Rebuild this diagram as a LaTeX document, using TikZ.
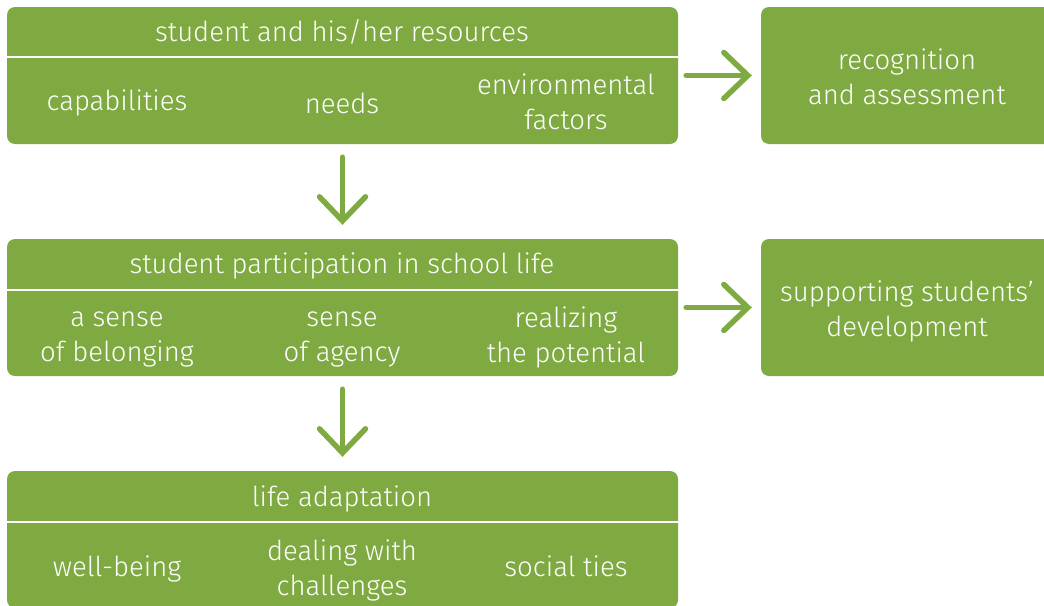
\documentclass[tikz,border=0pt]{standalone}
\usepackage{fontspec}
\setmainfont{Fira Sans Light}
\usetikzlibrary{arrows.meta, positioning}
\definecolor{leafgreen}{HTML}{7FAA42}

\begin{document}
\begin{tikzpicture}[x=1pt, y=-1pt,
    box/.style={fill=leafgreen, rounded corners=8pt, inner sep=0pt, minimum height=137pt},
    wide/.style={box, minimum width=671pt},
    side/.style={box, minimum width=300pt},
    txt/.style={text=white, font=\fontsize{27.5}{35}\selectfont, align=center},
    sep/.style={draw=white, line width=2.5pt},
    flow/.style={draw=leafgreen, line width=5.5pt, line cap=round,
        -{Straight Barb[length=24pt, width=46pt, line cap=round]}}]
    \useasboundingbox (0,0) rectangle (1044,605);

    % boxes
    \node[wide] (res)  at (342.5,75.5)  {};
    \node[side] (rec)  at (911,75.5)    {};
    \node[wide] (part) at (342.5,307.5) {};
    \node[side] (sup)  at (911,307.5)   {};
    \node[wide] (life) at (342.5,539.5) {};

    % header lines
    \draw[sep] (res.west |- 0,57)   -- (res.east |- 0,57);
    \draw[sep] (part.west |- 0,290) -- (part.east |- 0,290);
    \draw[sep] (life.west |- 0,522) -- (life.east |- 0,522);

    % texts
    \node[txt] (resT)  at (342,32)  {student and his/her resources};
    \node[txt] (cap)   at (117,103) {capabilities};
    \node[txt] (need)  at (342,103) {needs};
    \node[txt] (env)   at (566,102) {environmental\\factors};
    \node[txt] (recT)  at (907,77)  {recognition\\and assessment};

    \node[txt] (partT) at (342,266) {student participation in school life};
    \node[txt] (belong) at (117,339) {a sense\\of belonging};
    \node[txt] (agency) at (342,339) {sense\\of agency};
    \node[txt] (potent) at (566,337) {realizing\\the potential};
    \node[txt] (supT)  at (907,311) {supporting students'\\development};

    \node[txt] (lifeT) at (342,499) {life adaptation};
    \node[txt] (well)  at (117,569) {well-being};
    \node[txt] (deal)  at (342,570) {dealing with\\challenges};
    \node[txt] (ties)  at (566,566) {social ties};

    % arrows
    \draw[flow, shorten <=8pt, shorten >=9pt] (res) -- (rec);
    \draw[flow, shorten <=8pt, shorten >=9pt] (part) -- (sup);
    \draw[flow, shorten <=13pt, shorten >=14pt] (res) -- (part);
    \draw[flow, shorten <=13pt, shorten >=14pt] (part) -- (life);
\end{tikzpicture}
\end{document}
